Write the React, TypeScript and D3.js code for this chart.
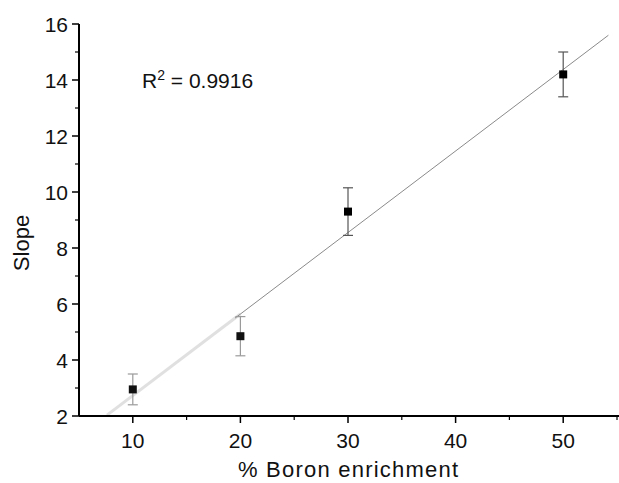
import { useMemo } from 'react';
import * as d3 from 'd3';

const enrichment = [10, 20, 30, 50];
const slope = [2.95, 4.85, 9.3, 14.2];
const slopeErr = [0.55, 0.7, 0.85, 0.8];
const xTicks = [10, 20, 30, 40, 50];
const xMinor = [15, 25, 35, 45, 55];
const yTicks = [2, 4, 6, 8, 10, 12, 14, 16];
const yMinor = [3, 5, 7, 9, 11, 13, 15];
const fitRange = [7.6, 54.2];
const rSquared = '0.9916';

const W = 619;
const H = 483;
const FONT = 'Arial, "Liberation Sans", Helvetica, sans-serif';

export default function App() {
  const x = useMemo(() => d3.scaleLinear().domain([5, 55]).range([79, 617]), []);
  const y = useMemo(() => d3.scaleLinear().domain([2, 16]).range([416, 24]), []);

  // least squares fit through the points
  const fit = useMemo(() => {
    const mx = d3.mean(enrichment)!;
    const my = d3.mean(slope)!;
    const sxy = d3.sum(enrichment, (v, i) => (v - mx) * (slope[i] - my));
    const sxx = d3.sum(enrichment, (v) => (v - mx) ** 2);
    const b = sxy / sxx;
    const a = my - b * mx;
    return { a, b };
  }, []);

  const line = d3
    .line<number>()
    .x((d) => x(d))
    .y((d) => y(fit.a + fit.b * d));

  const x0 = x.range()[0];
  const yBottom = y.range()[0];

  return (
    <svg
      width={W}
      height={H}
      style={{ position: 'absolute', left: 0, top: 0, background: '#fff' }}
      fontFamily={FONT}
    >
      {/* fit line: faded lower part, as in the scan */}
      <path d={line([fitRange[0], 20]) || ''} fill="none" stroke="#e0e0e0" strokeWidth={3} />
      <path d={line([19.5, fitRange[1]]) || ''} fill="none" stroke="#8a8a8a" strokeWidth={1} />

      {/* error bars and markers */}
      {enrichment.map((v, i) => {
        const cx = x(v);
        const top = y(slope[i] + slopeErr[i]);
        const bot = y(slope[i] - slopeErr[i]);
        const faded = v < 25;
        const c = faded ? '#9a9a9a' : '#555';
        return (
          <g key={v}>
            <line x1={cx} x2={cx} y1={top} y2={bot} stroke={c} strokeWidth={1.2} />
            <line x1={cx - 5} x2={cx + 5} y1={top} y2={top} stroke={c} strokeWidth={1.2} />
            <line x1={cx - 5} x2={cx + 5} y1={bot} y2={bot} stroke={c} strokeWidth={1.2} />
            <rect x={cx - 4} y={y(slope[i]) - 4} width={8} height={8} fill={faded ? '#111' : '#000'} />
          </g>
        );
      })}

      {/* y axis */}
      <line x1={x0} x2={x0} y1={y(16)} y2={yBottom} stroke="#000" strokeWidth={2} />
      {yTicks.map((t) => (
        <g key={t}>
          <line x1={x0 - 7} x2={x0} y1={y(t)} y2={y(t)} stroke="#000" strokeWidth={1.5} />
          <text x={x0 - 11} y={y(t)} dy="0.36em" textAnchor="end" fontSize={21} fill="#111">
            {t}
          </text>
        </g>
      ))}
      {yMinor.map((t) => (
        <line key={t} x1={x0 - 4} x2={x0} y1={y(t)} y2={y(t)} stroke="#000" strokeWidth={1.2} />
      ))}

      {/* x axis */}
      <line x1={x0} x2={W} y1={yBottom} y2={yBottom} stroke="#000" strokeWidth={2} />
      {xTicks.map((t) => (
        <g key={t}>
          <line x1={x(t)} x2={x(t)} y1={yBottom} y2={yBottom + 7} stroke="#000" strokeWidth={1.5} />
          <text x={x(t)} y={448} textAnchor="middle" fontSize={21} fill="#111">
            {t}
          </text>
        </g>
      ))}
      {xMinor.map((t) => (
        <line key={t} x1={x(t)} x2={x(t)} y1={yBottom} y2={yBottom + 4} stroke="#000" strokeWidth={1.2} />
      ))}

      {/* axis titles */}
      <text
        x={238}
        y={477}
        fontSize={22}
        fill="#111"
        textLength={220}
        lengthAdjust="spacing"
      >
        % Boron enrichment
      </text>
      <text
        transform={`translate(29, 243) rotate(-90)`}
        textAnchor="middle"
        fontSize={22}
        fill="#111"
      >
        Slope
      </text>

      {/* R squared annotation */}
      <text x={142} y={88} fontSize={21} fill="#111">
        R<tspan dy={-8} fontSize={14}>2</tspan>
        <tspan dy={8}> = {rSquared}</tspan>
      </text>
    </svg>
  );
}
